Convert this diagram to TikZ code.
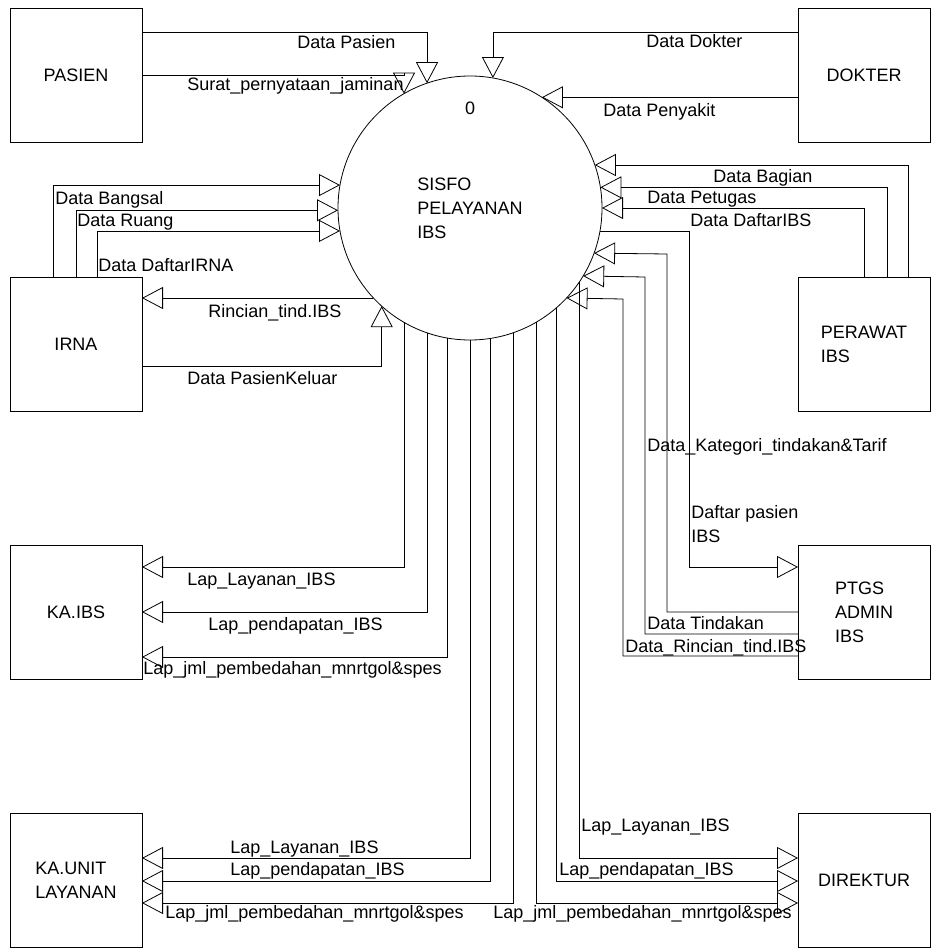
\documentclass[tikz,border=0pt]{standalone}
\usepackage{fontspec}
\setmainfont{Liberation Sans}
\usetikzlibrary{arrows.meta,positioning,shapes.geometric}

\begin{document}
\begin{tikzpicture}[x=1pt, y=-1pt, line width=0.8pt,
  every node/.style={font=\fontsize{18}{24}\selectfont},
  entity/.style={draw, minimum width=132pt, minimum height=134pt, inner sep=0pt, outer sep=0pt, align=left},
  process/.style={draw, circle, minimum size=264pt, inner sep=0pt, outer sep=0pt, align=left},
  flow/.style={-{Triangle[open, length=21pt, width=22pt]}},
  lbl/.style={inner sep=0pt, anchor=base west, align=left},
]
\useasboundingbox (0,0) rectangle (930,949);

\node[entity] (pasien) at (76,75) {PASIEN};
\node[entity] (dokter) at (864,75) {DOKTER};
\node[entity] (irna) at (76,344) {IRNA};
\node[entity] (perawat) at (864,344) {PERAWAT\\IBS};
\node[entity] (kaibs) at (76,612) {KA.IBS};
\node[entity] (ptgs) at (864,612) {PTGS\\ADMIN\\IBS};
\node[entity] (kaunit) at (76,880) {KA.UNIT\\LAYANAN};
\node[entity] (direktur) at (864,880) {DIREKTUR};
\node[process] (sisfo) at (470,208) {SISFO\\PELAYANAN\\IBS};
\node[anchor=base] (nomor) at (470,115) {0};

\draw[flow] (pasien.east |- 0,32) -| (sisfo.109);
\draw[flow] (pasien.east |- 0,75) -| (sisfo.120);
\draw[flow] (dokter.west |- 0,32) -| (sisfo.80.4);
\draw[flow] (dokter.west |- sisfo.57.2) -- (sisfo.57.2);
\draw[flow] (irna.north -| 53,0) |- (sisfo.170.8);
\draw[flow] (irna.north -| 76,0) |- (sisfo.181.3);
\draw[flow] (irna.north -| 97,0) |- (sisfo.190.5);
\draw[flow] (sisfo.223.6) -- (irna.east |- sisfo.223.6);
\draw[flow] (irna.east |- 0,366) -| (sisfo.228.8);
\draw[flow] (perawat.north -| 908,0) |- (sisfo.19);
\draw[flow] (perawat.north -| 887,0) |- (sisfo.9.2);
\draw[flow] (perawat.north -| 864,0) |- (sisfo.-0.9);
\draw[flow] (sisfo.-10.5) -| (689,567) -- (ptgs.west |- 0,567);
\draw[flow] (ptgs.west |- 0,612) -| (667,254) -- (sisfo.-20.4);
\draw[flow] (ptgs.west |- 0,634) -| (645,277) -- (sisfo.-31.5);
\draw[flow] (ptgs.west |- 0,656) -| (623,299) -- (sisfo.-43.6);
\draw[flow] (sisfo.240) |- (kaibs.east |- 0,567);
\draw[flow] (sisfo.251) |- (kaibs.east |- 0,612);
\draw[flow] (sisfo.260.4) |- (kaibs.east |- 0,657);
\draw[flow] (sisfo.270) |- (kaunit.east |- 0,858);
\draw[flow] (sisfo.279.6) |- (kaunit.east |- 0,881);
\draw[flow] (sisfo.289.5) |- (kaunit.east |- 0,903);
\draw[flow] (sisfo.326.4) |- (direktur.west |- 0,858);
\draw[flow] (sisfo.311.8) |- (direktur.west |- 0,881);
\draw[flow] (sisfo.300) |- (direktur.west |- 0,903);

\node[lbl] (lPasien) at (297,49) {Data Pasien};
\node[lbl] (lSurat) at (187,91) {Surat\_pernyataan\_jaminan};
\node[lbl] (lDokter) at (646,48) {Data Dokter};
\node[lbl] (lPenyakit) at (603,117) {Data Penyakit};
\node[lbl] (lBangsal) at (55,205) {Data Bangsal};
\node[lbl] (lRuang) at (77,227) {Data Ruang};
\node[lbl] (lDaftarIrna) at (98,272) {Data DaftarIRNA};
\node[lbl] (lRincian) at (208,317) {Rincian\_tind.IBS};
\node[lbl] (lKeluar) at (187,384) {Data PasienKeluar};
\node[lbl] (lBagian) at (713,183) {Data Bagian};
\node[lbl] (lPetugas) at (647,204) {Data Petugas};
\node[lbl] (lDaftarIbs) at (690,227) {Data DaftarIBS};
\node[lbl] (lKategori) at (647,451) {Data\_Kategori\_tindakan\&Tarif};
\node[lbl, anchor=north west] (lDaftarPasien) at (691,505) {Daftar pasien\\IBS};
\node[lbl] (lTindakan) at (647,629) {Data Tindakan};
\node[lbl] (lRincianTind) at (625,652) {Data\_Rincian\_tind.IBS};
\node[lbl] (lLayananKa) at (187,585) {Lap\_Layanan\_IBS};
\node[lbl] (lPendapatanKa) at (208,630) {Lap\_pendapatan\_IBS};
\node[lbl] (lJmlKa) at (143,674) {Lap\_jml\_pembedahan\_mnrtgol\&spes};
\node[lbl] (lLayananUnit) at (230,853) {Lap\_Layanan\_IBS};
\node[lbl] (lPendapatanUnit) at (230,875) {Lap\_pendapatan\_IBS};
\node[lbl] (lJmlUnit) at (165,918) {Lap\_jml\_pembedahan\_mnrtgol\&spes};
\node[lbl] (lLayananDir) at (581,831) {Lap\_Layanan\_IBS};
\node[lbl] (lPendapatanDir) at (559,875) {Lap\_pendapatan\_IBS};
\node[lbl] (lJmlDir) at (493,918) {Lap\_jml\_pembedahan\_mnrtgol\&spes};
\end{tikzpicture}
\end{document}
